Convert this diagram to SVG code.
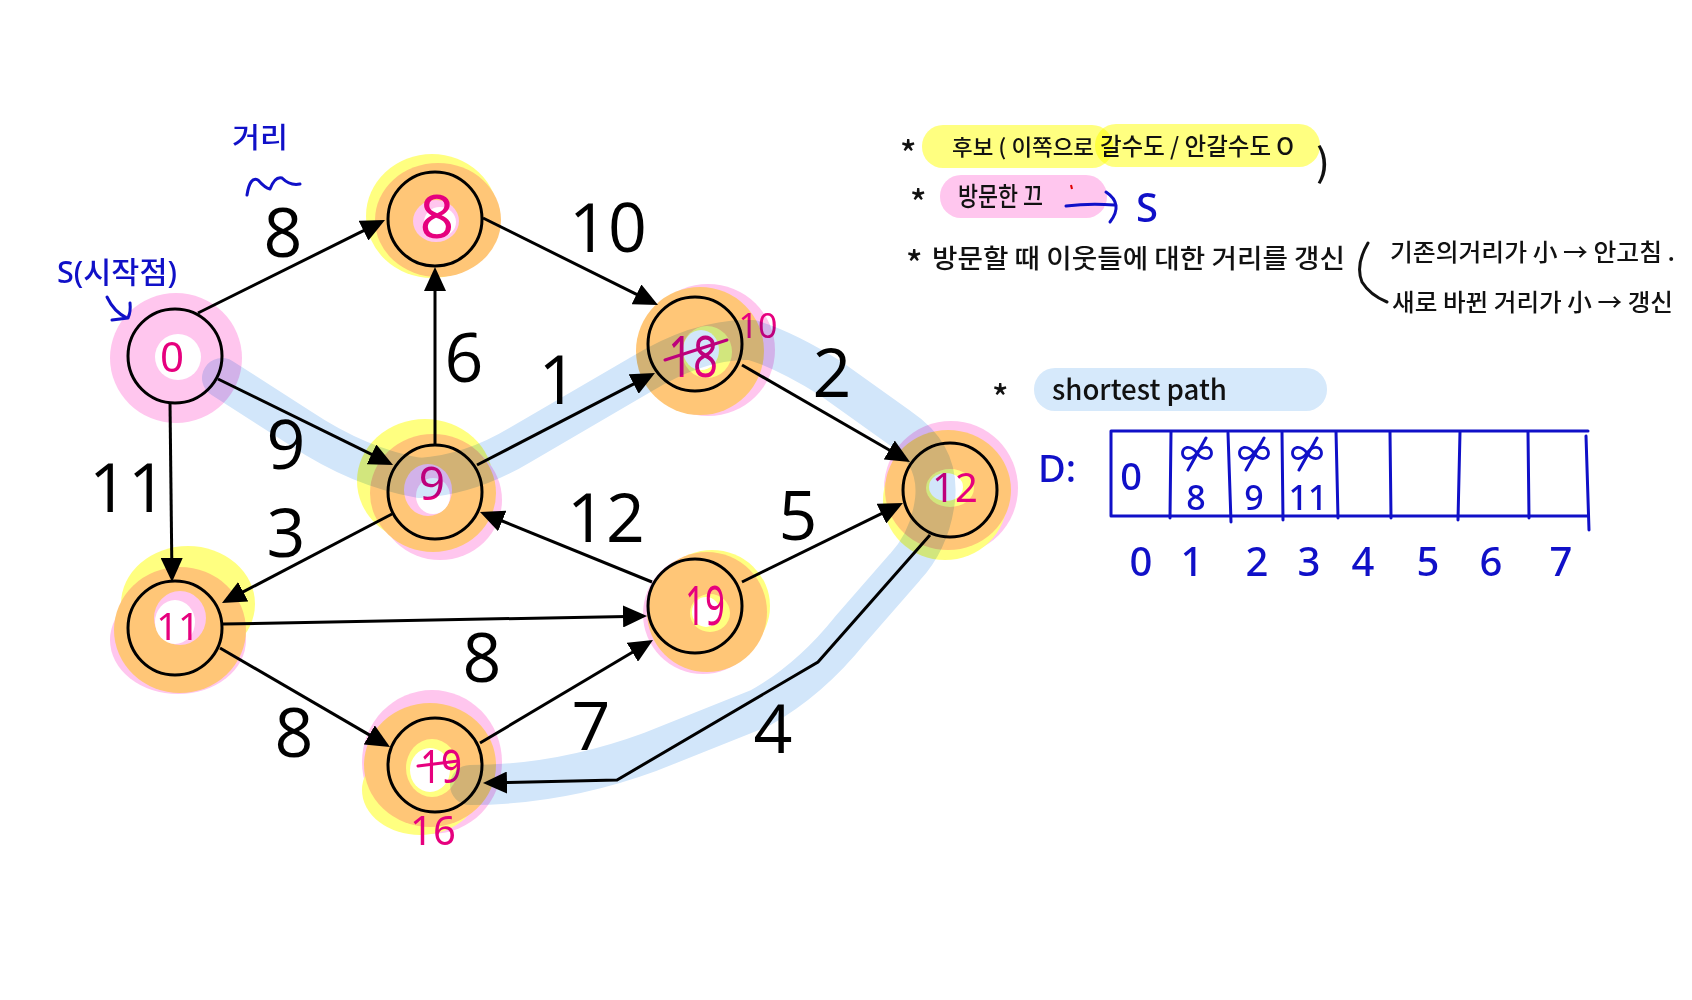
<svg xmlns="http://www.w3.org/2000/svg" width="1692" height="1000" viewBox="0 0 1692 1000">
<style>
.bg{fill:#ffffff}
.edge{fill:none;stroke:#000;stroke-width:3}
.ring{fill:none;stroke:#000;stroke-width:3}
.w{font-family:"Open Sans","Liberation Sans",sans-serif;font-size:68px;fill:#000;text-anchor:middle}
.mg{font-family:"Noto Sans","Liberation Sans",sans-serif;fill:#e6007e;text-anchor:middle}
.mgs{stroke:#e6007e;stroke-width:3;fill:none;stroke-linecap:round}
.bl{font-family:"Noto Sans","Noto Sans CJK KR",sans-serif;fill:#1010c8;font-weight:500}
.bls{stroke:#1010c8;stroke-width:3;fill:none;stroke-linecap:round;stroke-linejoin:round}
.kr{font-family:"Noto Sans CJK KR","Noto Sans",sans-serif;fill:#111;font-weight:500}
.yl{fill:#ffff80}.pk{fill:#ffc6ee}.or{fill:#ffc677}.wh{fill:#ffffff}
.mult{mix-blend-mode:multiply}
</style>
<defs>
<marker id="ah" markerUnits="userSpaceOnUse" markerWidth="26" markerHeight="22" refX="4" refY="11" orient="auto">
<path d="M0,0 L24,11 L0,22 z" fill="#000"/>
</marker>
</defs>
<rect class="bg" x="0" y="0" width="1692" height="1000"/>

<g id="node-0">
<ellipse class="pk" cx="176" cy="358" rx="66" ry="65"/>
<ellipse class="wh" cx="178" cy="357" rx="23" ry="23"/>
<circle class="ring" cx="175" cy="356" r="47"/>
<text class="mg" x="172" y="372" font-size="42">0</text>
</g>
<g id="node-8">
<ellipse class="yl" cx="432" cy="216" rx="66" ry="62"/>
<ellipse class="or" cx="438" cy="220" rx="63" ry="57"/>
<ellipse class="pk" cx="436" cy="221" rx="23" ry="21"/>
<ellipse class="wh" cx="440" cy="222" rx="16" ry="15"/>
<circle class="ring" cx="435" cy="219" r="47"/>
<text class="mg" x="437" y="238" font-size="60">8</text>
</g>
<g id="node-10">
<ellipse class="pk" cx="708" cy="350" rx="67" ry="66"/>
<ellipse class="or" cx="700" cy="351" rx="64" ry="64"/>
<ellipse class="yl" cx="707" cy="352" rx="25" ry="26"/>
<ellipse class="wh" cx="701" cy="350" rx="18" ry="20"/>
<circle class="ring" cx="695" cy="344" r="47"/>
<text class="mg" x="693" y="377" font-size="56" textLength="50" lengthAdjust="spacingAndGlyphs">18</text>
<path class="mgs" d="M665 360 L727 340"/>
<text class="mg" x="758" y="338" font-size="34">10</text>
</g>
<g id="node-12">
<ellipse class="pk" cx="951" cy="488" rx="67" ry="67"/>
<ellipse class="yl" cx="945" cy="500" rx="62" ry="60"/>
<ellipse class="or" cx="948" cy="490" rx="63" ry="60"/>
<ellipse class="yl" cx="950" cy="488" rx="24" ry="19"/>
<ellipse class="wh" cx="946" cy="487" rx="17" ry="14"/>
<circle class="ring" cx="950" cy="490" r="47"/>
<text class="mg" x="955" y="502" font-size="40">12</text>
</g>
<g id="node-9">
<ellipse class="yl" cx="425" cy="481" rx="68" ry="62"/>
<ellipse class="pk" cx="440" cy="500" rx="62" ry="60"/>
<ellipse class="or" cx="433" cy="493" rx="63" ry="59"/>
<ellipse class="pk" cx="428" cy="490" rx="24" ry="26"/>
<ellipse class="wh" cx="433" cy="496" rx="17" ry="18"/>
<circle class="ring" cx="435" cy="492" r="47"/>
<text class="mg" x="432" y="500" font-size="46">9</text>
</g>
<g id="node-19">
<ellipse class="yl" cx="712" cy="606" rx="58" ry="56"/>
<ellipse class="pk" cx="703" cy="614" rx="60" ry="60"/>
<ellipse class="or" cx="707" cy="612" rx="60" ry="60"/>
<ellipse class="yl" cx="710" cy="613" rx="20" ry="19"/>
<ellipse class="wh" cx="706" cy="612" rx="14" ry="15"/>
<circle class="ring" cx="695" cy="606" r="47"/>
<text class="mg" x="705" y="625" font-size="54" textLength="40" lengthAdjust="spacingAndGlyphs">19</text>
</g>
<g id="node-11">
<ellipse class="yl" cx="188" cy="604" rx="67" ry="58"/>
<ellipse class="pk" cx="178" cy="640" rx="68" ry="54"/>
<ellipse class="or" cx="180" cy="630" rx="66" ry="63"/>
<ellipse class="pk" cx="180" cy="618" rx="26" ry="27"/>
<ellipse class="wh" cx="175" cy="622" rx="20" ry="22"/>
<circle class="ring" cx="175" cy="628" r="47"/>
<text class="mg" x="178" y="640" font-size="38">11</text>
</g>
<g id="node-16">
<ellipse class="pk" cx="432" cy="762" rx="70" ry="72"/>
<ellipse class="yl" cx="420" cy="790" rx="58" ry="45"/>
<ellipse class="or" cx="430" cy="765" rx="66" ry="62"/>
<ellipse class="yl" cx="432" cy="768" rx="26" ry="29"/>
<ellipse class="wh" cx="430" cy="770" rx="20" ry="22"/>
<circle class="ring" cx="435" cy="765" r="47"/>
<text class="mg" x="441" y="783" font-size="46" textLength="42" lengthAdjust="spacingAndGlyphs">19</text>
<path class="mgs" d="M418 766 L458 761"/>
<text class="mg" x="433" y="845" font-size="40">16</text>
</g>

<g id="connectors">
<line class="edge" x1="198" y1="313" x2="367.1" y2="228.9" marker-end="url(#ah)"/>
<line class="edge" x1="218" y1="379" x2="375.1" y2="456.2" marker-end="url(#ah)"/>
<line class="edge" x1="170" y1="402" x2="171.8" y2="562" marker-end="url(#ah)"/>
<line class="edge" x1="483" y1="218" x2="640.1" y2="296.1" marker-end="url(#ah)"/>
<line class="edge" x1="435" y1="445" x2="435" y2="287" marker-end="url(#ah)"/>
<line class="edge" x1="477" y1="465" x2="637.2" y2="382.2" marker-end="url(#ah)"/>
<line class="edge" x1="742" y1="365" x2="892.7" y2="452" marker-end="url(#ah)"/>
<line class="edge" x1="392" y1="514" x2="239.7" y2="593.7" marker-end="url(#ah)"/>
<line class="edge" x1="652" y1="582" x2="498.5" y2="519.5" marker-end="url(#ah)"/>
<line class="edge" x1="742" y1="582" x2="885" y2="511.8" marker-end="url(#ah)"/>
<line class="edge" x1="223" y1="624" x2="627" y2="616.4" marker-end="url(#ah)"/>
<line class="edge" x1="220" y1="648" x2="372.7" y2="736.9" marker-end="url(#ah)"/>
<line class="edge" x1="480" y1="743" x2="635.8" y2="650.2" marker-end="url(#ah)"/>
<polyline class="edge" points="930,535 818,662 617,780 503,782.6" marker-end="url(#ah)"/>
<text class="w" x="283" y="257">8</text>
<text class="w" x="608" y="252">10</text>
<text class="w" x="286" y="469">9</text>
<text class="w" x="128" y="512">11</text>
<text class="w" x="464" y="382">6</text>
<text class="w" x="286" y="557">3</text>
<text class="w" x="558" y="404">1</text>
<text class="w" x="832" y="397">2</text>
<text class="w" x="606" y="542">12</text>
<text class="w" x="798" y="540">5</text>
<text class="w" x="482" y="682">8</text>
<text class="w" x="294" y="757">8</text>
<text class="w" x="591" y="750">7</text>
<text class="w" x="773" y="753">4</text>
</g>

<path class="mult" d="M222 378 L300 428 Q360 468 420 478 Q470 475 520 445 L640 375 Q700 338 752 340 Q785 350 830 378 L900 428 Q940 455 935 500 Q930 540 905 567 L850 630 Q810 680 760 708 L650 752 Q560 785 470 785" fill="none" stroke="#d2e6fa" stroke-width="40" stroke-linecap="round" stroke-linejoin="round"/>

<g id="annotations-left">
<text class="bl" x="232" y="148" font-size="28" textLength="56" lengthAdjust="spacingAndGlyphs" font-family="Noto Sans CJK KR">거리</text>
<path class="bls" d="M247 195 Q250 176 258 180 Q265 188 270 189 Q275 176 282 178 Q290 186 300 184"/>
<text class="bl" x="57" y="283" font-size="30" textLength="120" lengthAdjust="spacingAndGlyphs" font-family="Noto Sans CJK KR">S(시작점)</text>
<path class="bls" d="M107 297 Q114 312 127 318 M130 303 Q131 312 128 318 L112 320"/>
</g>

<g id="annotations-right">
<rect class="yl mult" x="922" y="125" width="191" height="43" rx="21"/>
<rect class="yl mult" x="1095" y="124" width="225" height="43" rx="21"/>
<rect class="pk" x="940" y="175" width="167" height="43" rx="21"/>
<text class="kr" x="900" y="166" font-size="34">*</text>
<text class="kr" x="952" y="155" font-size="22" textLength="142" lengthAdjust="spacingAndGlyphs">후보 ( 이쪽으로</text>
<text class="kr" x="1100" y="155" font-size="24" textLength="194" lengthAdjust="spacingAndGlyphs">갈수도 / 안갈수도 O</text>
<text class="kr" x="1316" y="176" font-size="38">)</text>
<text class="kr" x="910" y="215" font-size="34">*</text>
<text class="kr" x="958" y="206" font-size="26" textLength="85" lengthAdjust="spacingAndGlyphs">방문한 끄</text>
<path d="M1071 185 L1072 189" stroke="#e00000" stroke-width="2"/>
<path class="bls" d="M1066 206 Q1090 203 1114 205 M1106 192 Q1124 204 1110 222"/>
<text class="bl" x="1136" y="222" font-size="40">S</text>
<text class="kr" x="906" y="276" font-size="34">*</text>
<text class="kr" x="932" y="268" font-size="26" textLength="413" lengthAdjust="spacingAndGlyphs">방문할 때 이웃들에 대한 거리를 갱신</text>
<path d="M1368 243 Q1355 265 1362 282 Q1370 295 1387 302" fill="none" stroke="#111" stroke-width="3" stroke-linecap="round"/>
<text class="kr" x="1390" y="261" font-size="24" textLength="285" lengthAdjust="spacingAndGlyphs">기존의거리가 小 → 안고침 .</text>
<text class="kr" x="1392" y="311" font-size="24" textLength="281" lengthAdjust="spacingAndGlyphs">새로 바뀐 거리가 小 → 갱신</text>
<rect fill="#d6e9fb" x="1034" y="368" width="293" height="43" rx="21"/>
<text class="kr" x="992" y="410" font-size="34">*</text>
<text class="kr" x="1052" y="400" font-size="28" textLength="175" lengthAdjust="spacingAndGlyphs">shortest path</text>
</g>

<g id="table">
<text class="bl" x="1038" y="482" font-size="38">D:</text>
<path class="bls" d="M1111 431 L1588 431 M1111 516 L1588 516 M1111 431 L1111 516 M1171 432 L1170 518 M1228 433 L1231 522 M1282 432 L1283 520 M1336 431 L1338 518 M1390 432 L1391 518 M1460 432 L1458 520 M1528 432 L1529 518 M1586 436 L1589 530"/>
<text class="bl" x="1131" y="490" font-size="38" text-anchor="middle">0</text>
<text class="bl" x="1197" y="466" font-size="34" text-anchor="middle">∞</text>
<text class="bl" x="1196" y="510" font-size="34" text-anchor="middle">8</text>
<text class="bl" x="1254" y="466" font-size="34" text-anchor="middle">∞</text>
<text class="bl" x="1254" y="510" font-size="34" text-anchor="middle">9</text>
<text class="bl" x="1307" y="466" font-size="34" text-anchor="middle">∞</text>
<text class="bl" x="1308" y="510" font-size="34" text-anchor="middle">11</text>
<path class="bls" d="M1188 470 L1206 438 M1246 470 L1264 438 M1299 470 L1317 438"/>
<text class="bl" x="1141" y="576" font-size="40" text-anchor="middle">0</text>
<text class="bl" x="1192" y="576" font-size="40" text-anchor="middle">1</text>
<text class="bl" x="1257" y="576" font-size="40" text-anchor="middle">2</text>
<text class="bl" x="1309" y="576" font-size="40" text-anchor="middle">3</text>
<text class="bl" x="1363" y="576" font-size="40" text-anchor="middle">4</text>
<text class="bl" x="1428" y="576" font-size="40" text-anchor="middle">5</text>
<text class="bl" x="1491" y="576" font-size="40" text-anchor="middle">6</text>
<text class="bl" x="1561" y="576" font-size="40" text-anchor="middle">7</text>
</g>
</svg>
